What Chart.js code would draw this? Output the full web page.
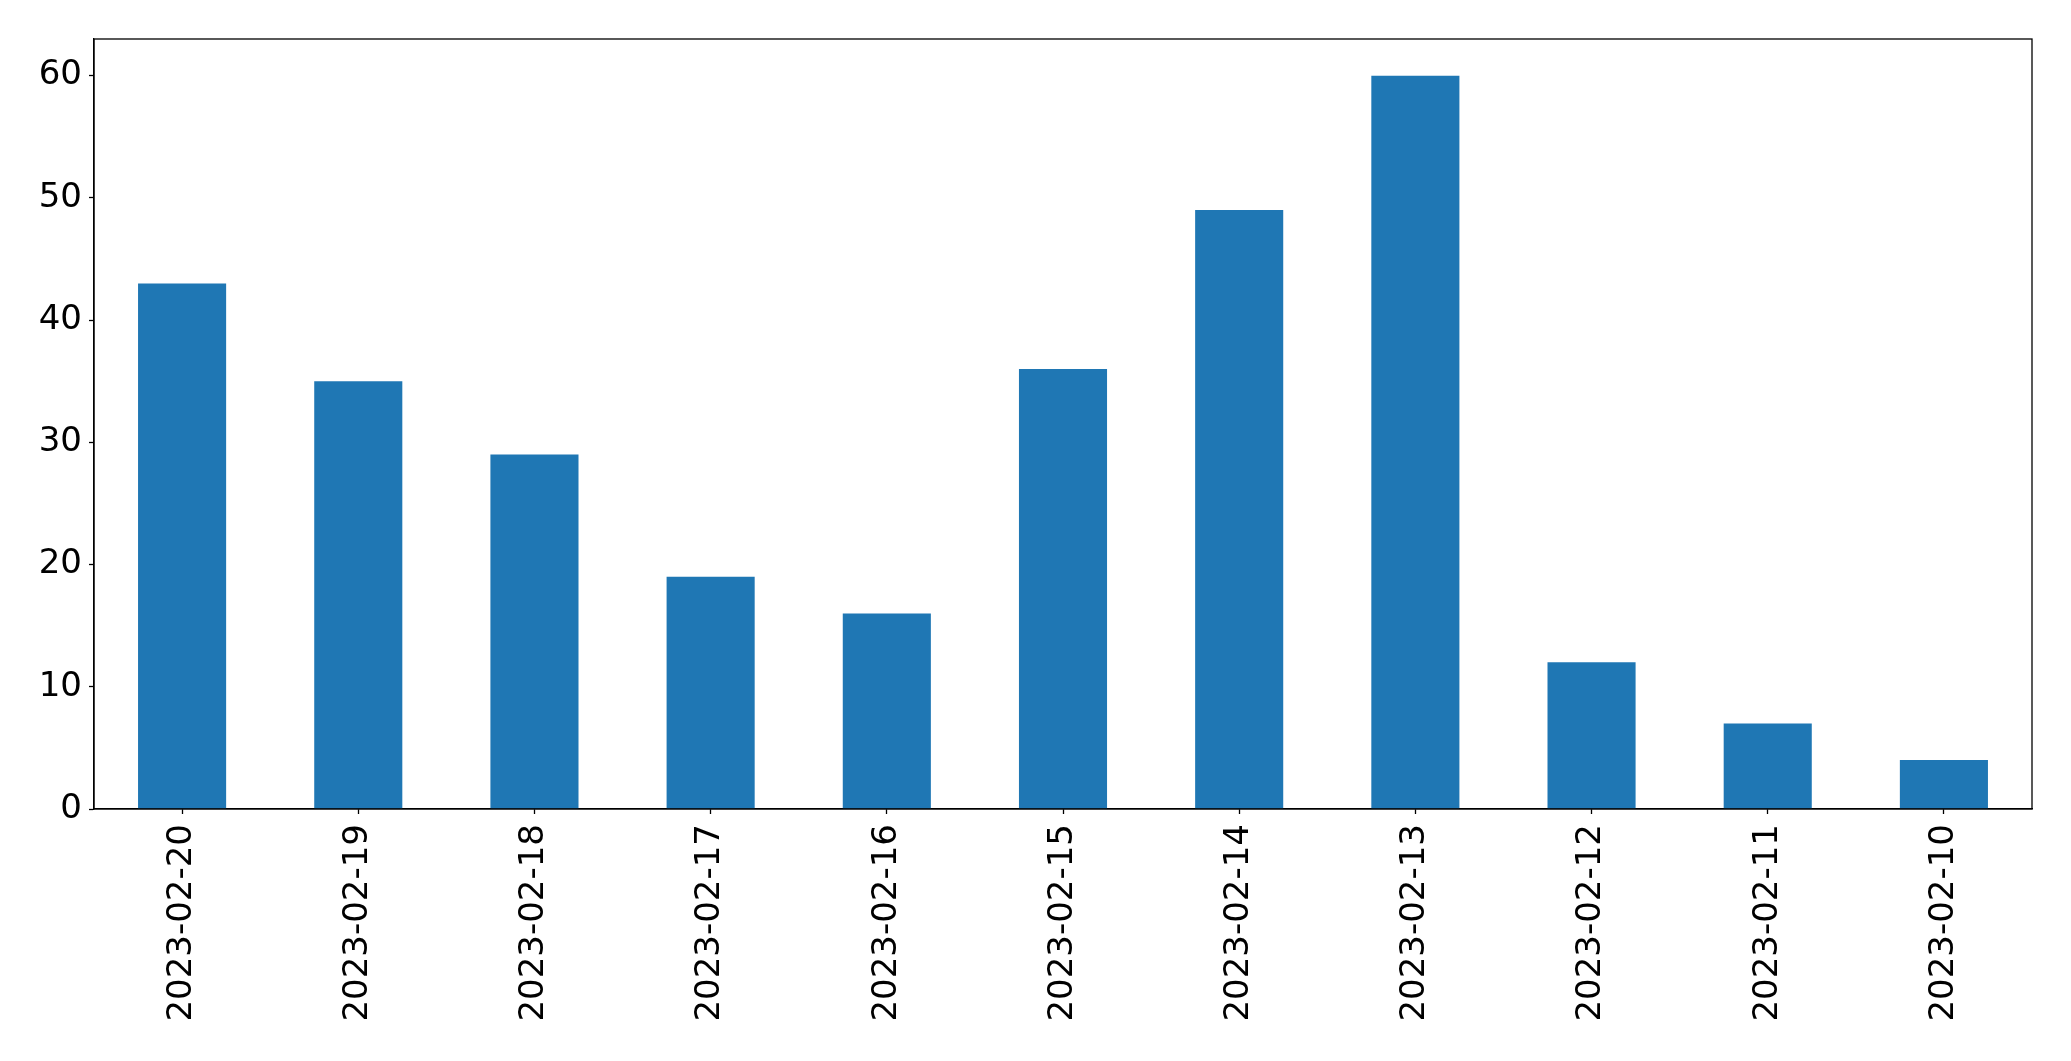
<!DOCTYPE html>
<html>
<head>
<meta charset="utf-8">
<script src="https://cdn.jsdelivr.net/npm/chart.js@4"></script>
<style>
    html, body { margin: 0; padding: 0; background: #fff; }
    #wrap { width: 2071px; height: 1061px; }
</style>
</head>
<body>
<div id="wrap"><canvas id="barChart" width="2071" height="1061"></canvas></div>
<script>
const dates = ["2023-02-20", "2023-02-19", "2023-02-18", "2023-02-17", "2023-02-16", "2023-02-15",
    "2023-02-14", "2023-02-13", "2023-02-12", "2023-02-11", "2023-02-10"];
const counts = [43, 35, 29, 19, 16, 36, 49, 60, 12, 7, 4];
const yTicks = [0, 10, 20, 30, 40, 50, 60];

// draws the top/right sides of the axes box, like matplotlib
const frameBox = {
    id: "frameBox",
    afterDatasetsDraw(chart) {
        const { ctx, chartArea } = chart;
        ctx.save();
        ctx.strokeStyle = "#000";
        ctx.lineWidth = 1.3;
        ctx.strokeRect(chartArea.left, chartArea.top, chartArea.right - chartArea.left, chartArea.bottom - chartArea.top);
        ctx.restore();
    }
};

const ctx = document.getElementById("barChart").getContext("2d");
new Chart(ctx, {
    type: "bar",
    data: {
        labels: dates,
        datasets: [{
            data: counts,
            backgroundColor: "#1f77b4",
            categoryPercentage: 1.0,
            barPercentage: 0.5
        }]
    },
    options: {
        responsive: false,
        animation: false,
        devicePixelRatio: 1,
        layout: { padding: { top: 39, right: 39, left: 0, bottom: 0 } },
        plugins: {
            legend: { display: false },
            tooltip: { enabled: false }
        },
        scales: {
            x: {
                offset: true,
                grid: { drawOnChartArea: false, drawTicks: true, tickLength: 5, color: "#000", tickWidth: 1.3, offset: false },
                border: { display: true, color: "#000", width: 1.3 },
                ticks: {
                    color: "#000",
                    font: { family: "DejaVu Sans", size: 34 },
                    minRotation: 90,
                    maxRotation: 90,
                    autoSkip: false,
                    padding: 10
                },
                afterFit(scale) { scale.height = 252; }
            },
            y: {
                min: 0,
                max: 63,
                afterBuildTicks(scale) { scale.ticks = yTicks.map(v => ({ value: v })); },
                grid: { drawOnChartArea: false, drawTicks: true, tickLength: 5, color: "#000", tickWidth: 1.3 },
                border: { display: true, color: "#000", width: 1.3 },
                ticks: {
                    color: "#000",
                    font: { family: "DejaVu Sans", size: 34 },
                    padding: 7
                },
                afterFit(scale) { scale.width = 94; }
            }
        }
    },
    plugins: [frameBox]
});
</script>
</body>
</html>
